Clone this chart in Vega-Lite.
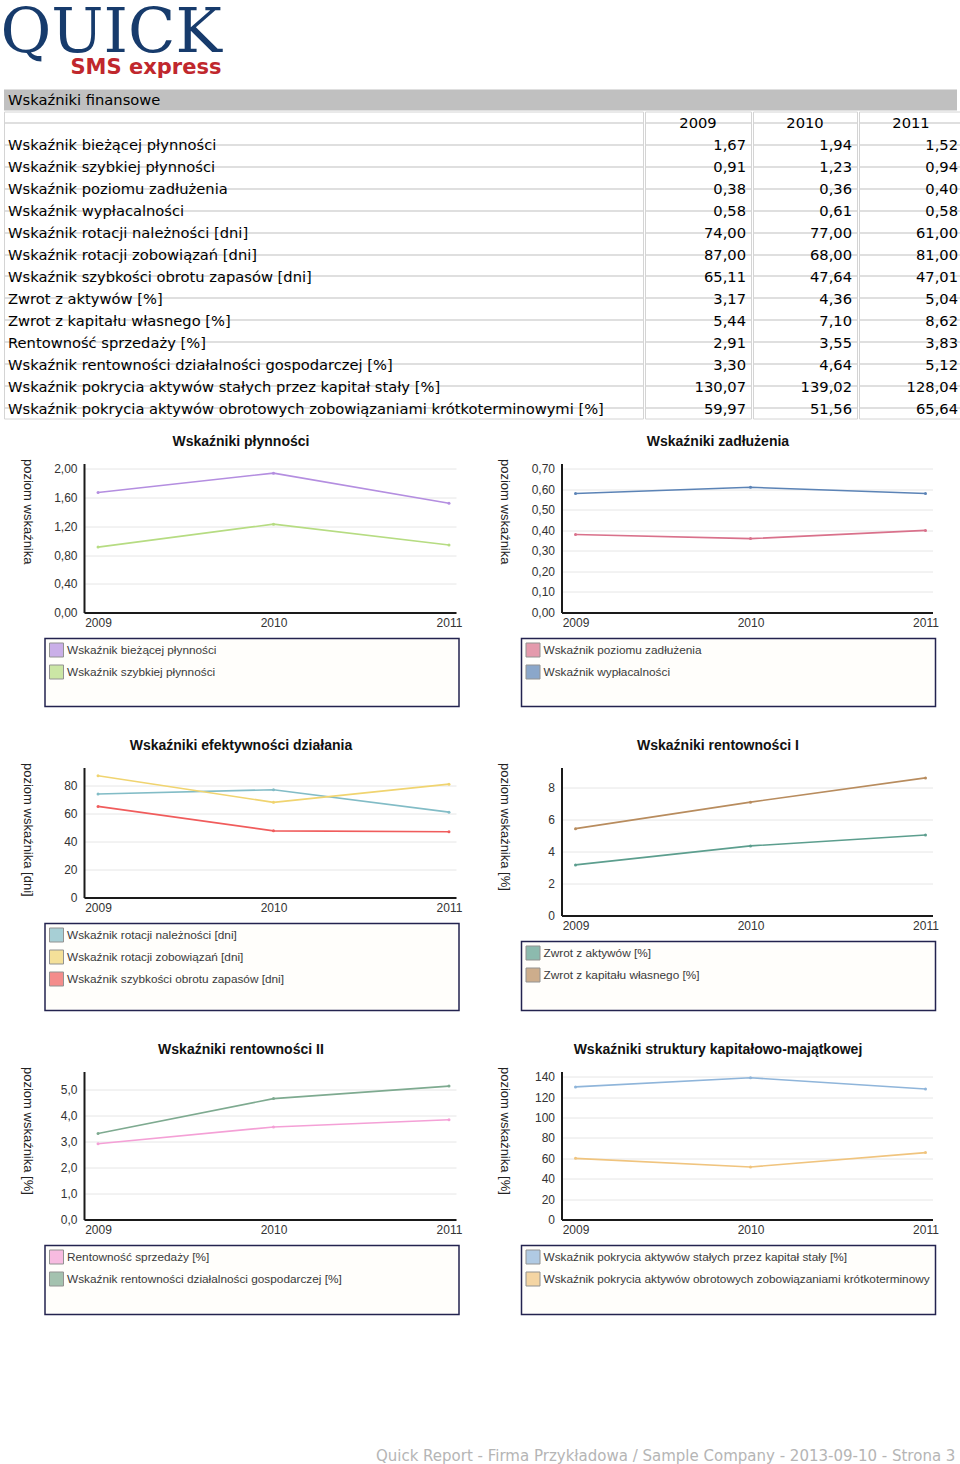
{
  "$schema": "https://vega.github.io/schema/vega-lite/v6.json",
  "padding": {"left": 0, "right": 3, "top": 1.5, "bottom": 0},
  "background": "white",
  "title": {"text": "QUICK", "anchor": "start", "dx": -3, "font": "DejaVu Serif", "fontSize": 62, "fontWeight": "normal", "color": "#173b6c", "offset": -8},
  "datasets": {
    "d": [
      {"g": "pl", "r": 1, "s": "Wskaźnik bieżącej płynności", "year": 2009, "v": 1.67},
      {"g": "pl", "r": 1, "s": "Wskaźnik bieżącej płynności", "year": 2010, "v": 1.94},
      {"g": "pl", "r": 1, "s": "Wskaźnik bieżącej płynności", "year": 2011, "v": 1.52},
      {"g": "pl", "r": 2, "s": "Wskaźnik szybkiej płynności", "year": 2009, "v": 0.91},
      {"g": "pl", "r": 2, "s": "Wskaźnik szybkiej płynności", "year": 2010, "v": 1.23},
      {"g": "pl", "r": 2, "s": "Wskaźnik szybkiej płynności", "year": 2011, "v": 0.94},
      {"g": "za", "r": 3, "s": "Wskaźnik poziomu zadłużenia", "year": 2009, "v": 0.38},
      {"g": "za", "r": 3, "s": "Wskaźnik poziomu zadłużenia", "year": 2010, "v": 0.36},
      {"g": "za", "r": 3, "s": "Wskaźnik poziomu zadłużenia", "year": 2011, "v": 0.40},
      {"g": "za", "r": 4, "s": "Wskaźnik wypłacalności", "year": 2009, "v": 0.58},
      {"g": "za", "r": 4, "s": "Wskaźnik wypłacalności", "year": 2010, "v": 0.61},
      {"g": "za", "r": 4, "s": "Wskaźnik wypłacalności", "year": 2011, "v": 0.58},
      {"g": "ef", "r": 5, "s": "Wskaźnik rotacji należności [dni]", "year": 2009, "v": 74.00},
      {"g": "ef", "r": 5, "s": "Wskaźnik rotacji należności [dni]", "year": 2010, "v": 77.00},
      {"g": "ef", "r": 5, "s": "Wskaźnik rotacji należności [dni]", "year": 2011, "v": 61.00},
      {"g": "ef", "r": 6, "s": "Wskaźnik rotacji zobowiązań [dni]", "year": 2009, "v": 87.00},
      {"g": "ef", "r": 6, "s": "Wskaźnik rotacji zobowiązań [dni]", "year": 2010, "v": 68.00},
      {"g": "ef", "r": 6, "s": "Wskaźnik rotacji zobowiązań [dni]", "year": 2011, "v": 81.00},
      {"g": "ef", "r": 7, "s": "Wskaźnik szybkości obrotu zapasów  [dni]", "year": 2009, "v": 65.11},
      {"g": "ef", "r": 7, "s": "Wskaźnik szybkości obrotu zapasów  [dni]", "year": 2010, "v": 47.64},
      {"g": "ef", "r": 7, "s": "Wskaźnik szybkości obrotu zapasów  [dni]", "year": 2011, "v": 47.01},
      {"g": "r1", "r": 8, "s": "Zwrot z aktywów [%]", "year": 2009, "v": 3.17},
      {"g": "r1", "r": 8, "s": "Zwrot z aktywów [%]", "year": 2010, "v": 4.36},
      {"g": "r1", "r": 8, "s": "Zwrot z aktywów [%]", "year": 2011, "v": 5.04},
      {"g": "r1", "r": 9, "s": "Zwrot z kapitału własnego [%]", "year": 2009, "v": 5.44},
      {"g": "r1", "r": 9, "s": "Zwrot z kapitału własnego [%]", "year": 2010, "v": 7.10},
      {"g": "r1", "r": 9, "s": "Zwrot z kapitału własnego [%]", "year": 2011, "v": 8.62},
      {"g": "r2", "r": 10, "s": "Rentowność sprzedaży [%]", "year": 2009, "v": 2.91},
      {"g": "r2", "r": 10, "s": "Rentowność sprzedaży [%]", "year": 2010, "v": 3.55},
      {"g": "r2", "r": 10, "s": "Rentowność sprzedaży [%]", "year": 2011, "v": 3.83},
      {"g": "r2", "r": 11, "s": "Wskaźnik rentowności działalności gospodarczej [%]", "year": 2009, "v": 3.30},
      {"g": "r2", "r": 11, "s": "Wskaźnik rentowności działalności gospodarczej [%]", "year": 2010, "v": 4.64},
      {"g": "r2", "r": 11, "s": "Wskaźnik rentowności działalności gospodarczej [%]", "year": 2011, "v": 5.12},
      {"g": "st", "r": 12, "s": "Wskaźnik pokrycia aktywów stałych przez kapitał stały [%]", "year": 2009, "v": 130.07},
      {"g": "st", "r": 12, "s": "Wskaźnik pokrycia aktywów stałych przez kapitał stały [%]", "year": 2010, "v": 139.02},
      {"g": "st", "r": 12, "s": "Wskaźnik pokrycia aktywów stałych przez kapitał stały [%]", "year": 2011, "v": 128.04},
      {"g": "st", "r": 13, "s": "Wskaźnik pokrycia aktywów obrotowych zobowiązaniami krótkoterminowymi [%]", "year": 2009, "v": 59.97},
      {"g": "st", "r": 13, "s": "Wskaźnik pokrycia aktywów obrotowych zobowiązaniami krótkoterminowymi [%]", "year": 2010, "v": 51.56},
      {"g": "st", "r": 13, "s": "Wskaźnik pokrycia aktywów obrotowych zobowiązaniami krótkoterminowymi [%]", "year": 2011, "v": 65.64}
    ]
  },
  "config": {
    "locale": {"number": {"decimal": ",", "thousands": " ", "grouping": [3], "currency": ["", " zł"]}},
    "view": {"stroke": null},
    "axis": {"labelFont": "Liberation Sans", "labelFontSize": 12, "labelColor": "#333333", "domainColor": "#1a1a1a", "domainWidth": 2, "ticks": false, "tickSize": 0, "labelOverlap": false, "titleFont": "Liberation Sans", "titleFontSize": 13, "titleFontWeight": "normal", "titleColor": "#222222"},
    "axisX": {"labelPadding": 5, "grid": false, "labelFlush": false},
    "axisY": {"labelPadding": 7, "grid": true, "gridColor": "#e6e6e6", "gridWidth": 1, "titleAngle": 90, "titleAlign": "left", "titleBaseline": "middle", "titleX": -57, "titleY": -5},
    "legend": {"orient": "top-left", "offset": 4, "padding": 0, "title": null, "symbolType": "square", "symbolSize": 196, "symbolStrokeColor": "#666666", "symbolStrokeWidth": 1, "labelFont": "Liberation Sans", "labelFontSize": 11.8, "labelColor": "#3a3a3a", "labelOffset": 3, "rowPadding": 3, "labelLimit": 420, "direction": "vertical"}
  },
  "spacing": 15,
  "resolve": {"scale": {"color": "independent", "x": "independent", "y": "independent"}, "legend": {"color": "independent"}},
  "vconcat": [
    {
      "title": {"text": "SMS express", "anchor": "start", "dx": 67, "font": "DejaVu Sans", "fontSize": 21, "fontWeight": "bold", "color": "#c0272d", "offset": 12},
      "spacing": 0,
      "resolve": {"scale": {"x": "independent", "y": "independent"}},
      "vconcat": [
        {
          "width": 953, "height": 21,
          "view": {"fill": "#c0c0c0", "stroke": null},
          "data": {"values": [{"t": "Wskaźniki finansowe"}]},
          "mark": {"type": "text", "align": "left", "baseline": "middle", "dx": 4, "dy": 1, "font": "DejaVu Sans", "fontSize": 14.7, "color": "#000000"},
          "encoding": {
            "x": {"datum": 0, "type": "quantitative", "scale": {"domain": [0, 1]}, "axis": null},
            "text": {"field": "t"}
          }
        },
        {
          "spacing": 0,
          "resolve": {"scale": {"x": "independent", "y": "independent"}},
          "hconcat": [
            {
              "width": 639, "height": 307,
              "view": {"stroke": "#d4d4d4", "strokeWidth": 1},
              "data": {"name": "d"},
              "transform": [{"filter": "datum.year == 2009"}],
              "mark": {"type": "text", "align": "left", "baseline": "middle", "dx": 4, "dy": 2, "font": "DejaVu Sans", "fontSize": 14.7, "color": "#000000"},
              "encoding": {
                "y": {"field": "r", "type": "ordinal", "scale": {"domain": [0,1,2,3,4,5,6,7,8,9,10,11,12,13], "paddingInner": 0, "paddingOuter": 0}, "axis": {"labels": false, "domain": false, "ticks": false, "title": null, "grid": true, "bandPosition": 0, "gridColor": "#d4d4d4", "gridWidth": 1.5}},
                "x": {"datum": 0, "type": "quantitative", "scale": {"domain": [0, 1]}, "axis": null},
                "text": {"field": "s"}
              }
            },
            {
              "width": 106, "height": 307,
              "view": {"stroke": "#d4d4d4", "strokeWidth": 1},
              "layer": [
                {
                  "data": {"name": "d"},
                  "transform": [{"filter": "datum.year == 2009"}],
                  "mark": {"type": "text", "align": "right", "baseline": "middle", "dx": -5, "dy": 2, "font": "DejaVu Sans", "fontSize": 14.7, "color": "#000000"},
                  "encoding": {
                    "y": {"field": "r", "type": "ordinal", "scale": {"domain": [0,1,2,3,4,5,6,7,8,9,10,11,12,13], "paddingInner": 0, "paddingOuter": 0}, "axis": {"labels": false, "domain": false, "ticks": false, "title": null, "grid": true, "bandPosition": 0, "gridColor": "#d4d4d4", "gridWidth": 1.5}},
                    "x": {"datum": 1, "type": "quantitative", "scale": {"domain": [0, 1]}, "axis": null},
                    "text": {"field": "v", "type": "quantitative", "format": ".2f"}
                  }
                },
                {
                  "data": {"values": [{"r": 0, "t": "2009"}]},
                  "mark": {"type": "text", "align": "center", "baseline": "middle", "dy": 2, "font": "DejaVu Sans", "fontSize": 14.7, "color": "#000000"},
                  "encoding": {
                    "y": {"field": "r", "type": "ordinal"},
                    "x": {"datum": 0.5, "type": "quantitative"},
                    "text": {"field": "t"}
                  }
                }
              ]
            },
            {
              "width": 104, "height": 307,
              "view": {"stroke": "#d4d4d4", "strokeWidth": 1},
              "layer": [
                {
                  "data": {"name": "d"},
                  "transform": [{"filter": "datum.year == 2010"}],
                  "mark": {"type": "text", "align": "right", "baseline": "middle", "dx": -5, "dy": 2, "font": "DejaVu Sans", "fontSize": 14.7, "color": "#000000"},
                  "encoding": {
                    "y": {"field": "r", "type": "ordinal", "scale": {"domain": [0,1,2,3,4,5,6,7,8,9,10,11,12,13], "paddingInner": 0, "paddingOuter": 0}, "axis": {"labels": false, "domain": false, "ticks": false, "title": null, "grid": true, "bandPosition": 0, "gridColor": "#d4d4d4", "gridWidth": 1.5}},
                    "x": {"datum": 1, "type": "quantitative", "scale": {"domain": [0, 1]}, "axis": null},
                    "text": {"field": "v", "type": "quantitative", "format": ".2f"}
                  }
                },
                {
                  "data": {"values": [{"r": 0, "t": "2010"}]},
                  "mark": {"type": "text", "align": "center", "baseline": "middle", "dy": 2, "font": "DejaVu Sans", "fontSize": 14.7, "color": "#000000"},
                  "encoding": {
                    "y": {"field": "r", "type": "ordinal"},
                    "x": {"datum": 0.5, "type": "quantitative"},
                    "text": {"field": "t"}
                  }
                }
              ]
            },
            {
              "width": 104, "height": 307,
              "view": {"stroke": "#d4d4d4", "strokeWidth": 1},
              "layer": [
                {
                  "data": {"name": "d"},
                  "transform": [{"filter": "datum.year == 2011"}],
                  "mark": {"type": "text", "align": "right", "baseline": "middle", "dx": -5, "dy": 2, "font": "DejaVu Sans", "fontSize": 14.7, "color": "#000000"},
                  "encoding": {
                    "y": {"field": "r", "type": "ordinal", "scale": {"domain": [0,1,2,3,4,5,6,7,8,9,10,11,12,13], "paddingInner": 0, "paddingOuter": 0}, "axis": {"labels": false, "domain": false, "ticks": false, "title": null, "grid": true, "bandPosition": 0, "gridColor": "#d4d4d4", "gridWidth": 1.5}},
                    "x": {"datum": 1, "type": "quantitative", "scale": {"domain": [0, 1]}, "axis": null},
                    "text": {"field": "v", "type": "quantitative", "format": ".2f"}
                  }
                },
                {
                  "data": {"values": [{"r": 0, "t": "2011"}]},
                  "mark": {"type": "text", "align": "center", "baseline": "middle", "dy": 2, "font": "DejaVu Sans", "fontSize": 14.7, "color": "#000000"},
                  "encoding": {
                    "y": {"field": "r", "type": "ordinal"},
                    "x": {"datum": 0.5, "type": "quantitative"},
                    "text": {"field": "t"}
                  }
                }
              ]
            }
          ]
        }
      ]
    },
    {
      "title": {"text": "Quick Report - Firma Przykładowa / Sample Company - 2013-09-10 - Strona 3", "orient": "bottom", "anchor": "end", "font": "DejaVu Sans", "fontSize": 15, "fontWeight": "normal", "color": "#b5b5b5", "offset": 134, "dx": 17},
      "spacing": 0,
      "resolve": {"scale": {"color": "independent", "x": "independent", "y": "independent"}, "legend": {"color": "independent"}},
      "hconcat": [
        {
          "width": 16, "height": 1,
          "data": {"values": [{"k": 0}]},
          "mark": {"type": "point", "opacity": 0},
          "encoding": {}
        },
        {
          "spacing": 31,
          "resolve": {"scale": {"color": "independent", "x": "independent", "y": "independent"}, "legend": {"color": "independent"}},
          "vconcat": [
            {
              "spacing": 35.5,
              "resolve": {"scale": {"color": "independent", "x": "independent", "y": "independent"}, "legend": {"color": "independent"}},
              "hconcat": [
                {
                  "title": {"text": "Wskaźniki płynności", "font": "Liberation Sans", "fontSize": 14, "fontWeight": "bold", "color": "#111111", "offset": 10, "anchor": "middle"},
                  "spacing": 9,
                  "resolve": {"scale": {"color": "independent", "x": "independent", "y": "independent"}, "legend": {"color": "independent"}},
                  "vconcat": [
                    {
                      "width": 414, "height": 149,
                      "data": {"name": "d"},
                      "transform": [{"filter": "datum.g == 'pl'"}],
                      "encoding": {
                        "x": {"field": "year", "type": "quantitative", "scale": {"domain": [2008.92, 2011.04], "nice": false, "zero": false, "rangeMin": 39, "rangeMax": 411}, "axis": {"values": [2009, 2010, 2011], "tickMinStep": 0.1, "labelExpr": "'' + datum.value", "title": null, "labelOverlap": false}},
                        "y": {"field": "v", "type": "quantitative", "scale": {"domain": [0, 2.074], "nice": false}, "axis": {"values": [0, 0.4, 0.8, 1.2, 1.6, 2.0], "format": ".2f", "title": "poziom wskaźnika", "offset": -39}},
                        "color": {"field": "s", "type": "nominal", "scale": {"domain": ["Wskaźnik bieżącej płynności", "Wskaźnik szybkiej płynności"], "range": ["#b48ee0", "#b6dc82"]}, "legend": null}
                      },
                      "layer": [
                        {"mark": {"type": "line", "strokeWidth": 1.6}},
                        {"mark": {"type": "point", "filled": true, "size": 9, "opacity": 1}}
                      ]
                    },
                    {
                      "width": 414, "height": 68,
                      "view": {"fill": "#fffefb", "stroke": "#23234f", "strokeWidth": 1.5},
                      "data": {"name": "d"},
                      "transform": [{"filter": "datum.g == 'pl' && datum.year == 2009"}],
                      "mark": {"type": "square", "size": 0},
                      "encoding": {
                        "color": {"field": "s", "type": "nominal", "scale": {"domain": ["Wskaźnik bieżącej płynności", "Wskaźnik szybkiej płynności"], "range": ["#b48ee0", "#b6dc82"]}, "legend": {}}
                      }
                    }
                  ]
                },
                {
                  "title": {"text": "Wskaźniki zadłużenia", "font": "Liberation Sans", "fontSize": 14, "fontWeight": "bold", "color": "#111111", "offset": 10, "anchor": "middle"},
                  "spacing": 9,
                  "resolve": {"scale": {"color": "independent", "x": "independent", "y": "independent"}, "legend": {"color": "independent"}},
                  "vconcat": [
                    {
                      "width": 414, "height": 149,
                      "data": {"name": "d"},
                      "transform": [{"filter": "datum.g == 'za'"}],
                      "encoding": {
                        "x": {"field": "year", "type": "quantitative", "scale": {"domain": [2008.92, 2011.04], "nice": false, "zero": false, "rangeMin": 40, "rangeMax": 411}, "axis": {"values": [2009, 2010, 2011], "tickMinStep": 0.1, "labelExpr": "'' + datum.value", "title": null, "labelOverlap": false}},
                        "y": {"field": "v", "type": "quantitative", "scale": {"domain": [0, 0.726], "nice": false}, "axis": {"values": [0, 0.1, 0.2, 0.3, 0.4, 0.5, 0.6, 0.7], "format": ".2f", "title": "poziom wskaźnika", "offset": -40}},
                        "color": {"field": "s", "type": "nominal", "scale": {"domain": ["Wskaźnik poziomu zadłużenia", "Wskaźnik wypłacalności"], "range": ["#d9718b", "#5b83b6"]}, "legend": null}
                      },
                      "layer": [
                        {"mark": {"type": "line", "strokeWidth": 1.6}},
                        {"mark": {"type": "point", "filled": true, "size": 9, "opacity": 1}}
                      ]
                    },
                    {
                      "width": 414, "height": 68,
                      "view": {"fill": "#fffefb", "stroke": "#23234f", "strokeWidth": 1.5},
                      "data": {"name": "d"},
                      "transform": [{"filter": "datum.g == 'za' && datum.year == 2009"}],
                      "mark": {"type": "square", "size": 0},
                      "encoding": {
                        "color": {"field": "s", "type": "nominal", "scale": {"domain": ["Wskaźnik poziomu zadłużenia", "Wskaźnik wypłacalności"], "range": ["#d9718b", "#5b83b6"]}, "legend": {}}
                      }
                    }
                  ]
                }
              ]
            },
            {
              "spacing": 35.5,
              "resolve": {"scale": {"color": "independent", "x": "independent", "y": "independent"}, "legend": {"color": "independent"}},
              "hconcat": [
                {
                  "title": {"text": "Wskaźniki efektywności działania", "font": "Liberation Sans", "fontSize": 14, "fontWeight": "bold", "color": "#111111", "offset": 10, "anchor": "middle"},
                  "spacing": 9,
                  "resolve": {"scale": {"color": "independent", "x": "independent", "y": "independent"}, "legend": {"color": "independent"}},
                  "vconcat": [
                    {
                      "width": 414, "height": 130,
                      "data": {"name": "d"},
                      "transform": [{"filter": "datum.g == 'ef'"}],
                      "encoding": {
                        "x": {"field": "year", "type": "quantitative", "scale": {"domain": [2008.92, 2011.04], "nice": false, "zero": false, "rangeMin": 39, "rangeMax": 411}, "axis": {"values": [2009, 2010, 2011], "tickMinStep": 0.1, "labelExpr": "'' + datum.value", "title": null, "labelOverlap": false}},
                        "y": {"field": "v", "type": "quantitative", "scale": {"domain": [0, 92.9], "nice": false}, "axis": {"values": [0, 20, 40, 60, 80], "format": "d", "title": "poziom wskaźnika [dni]", "offset": -39}},
                        "color": {"field": "s", "type": "nominal", "scale": {"domain": ["Wskaźnik rotacji należności [dni]", "Wskaźnik rotacji zobowiązań [dni]", "Wskaźnik szybkości obrotu zapasów  [dni]"], "range": ["#82bcc6", "#f0d470", "#f05c5c"]}, "legend": null}
                      },
                      "layer": [
                        {"mark": {"type": "line", "strokeWidth": 1.6}},
                        {"mark": {"type": "point", "filled": true, "size": 9, "opacity": 1}}
                      ]
                    },
                    {
                      "width": 414, "height": 87,
                      "view": {"fill": "#fffefb", "stroke": "#23234f", "strokeWidth": 1.5},
                      "data": {"name": "d"},
                      "transform": [{"filter": "datum.g == 'ef' && datum.year == 2009"}],
                      "mark": {"type": "square", "size": 0},
                      "encoding": {
                        "color": {"field": "s", "type": "nominal", "scale": {"domain": ["Wskaźnik rotacji należności [dni]", "Wskaźnik rotacji zobowiązań [dni]", "Wskaźnik szybkości obrotu zapasów  [dni]"], "range": ["#82bcc6", "#f0d470", "#f05c5c"]}, "legend": {}}
                      }
                    }
                  ]
                },
                {
                  "title": {"text": "Wskaźniki rentowności I", "font": "Liberation Sans", "fontSize": 14, "fontWeight": "bold", "color": "#111111", "offset": 10, "anchor": "middle"},
                  "spacing": 9,
                  "resolve": {"scale": {"color": "independent", "x": "independent", "y": "independent"}, "legend": {"color": "independent"}},
                  "vconcat": [
                    {
                      "width": 414, "height": 148,
                      "data": {"name": "d"},
                      "transform": [{"filter": "datum.g == 'r1'"}],
                      "encoding": {
                        "x": {"field": "year", "type": "quantitative", "scale": {"domain": [2008.92, 2011.04], "nice": false, "zero": false, "rangeMin": 40, "rangeMax": 411}, "axis": {"values": [2009, 2010, 2011], "tickMinStep": 0.1, "labelExpr": "'' + datum.value", "title": null, "labelOverlap": false}},
                        "y": {"field": "v", "type": "quantitative", "scale": {"domain": [0, 9.27], "nice": false}, "axis": {"values": [0, 2, 4, 6, 8], "format": "d", "title": "poziom wskaźnika [%]", "offset": -40}},
                        "color": {"field": "s", "type": "nominal", "scale": {"domain": ["Zwrot z aktywów [%]", "Zwrot z kapitału własnego [%]"], "range": ["#5c9e8e", "#b88c5e"]}, "legend": null}
                      },
                      "layer": [
                        {"mark": {"type": "line", "strokeWidth": 1.6}},
                        {"mark": {"type": "point", "filled": true, "size": 9, "opacity": 1}}
                      ]
                    },
                    {
                      "width": 414, "height": 69,
                      "view": {"fill": "#fffefb", "stroke": "#23234f", "strokeWidth": 1.5},
                      "data": {"name": "d"},
                      "transform": [{"filter": "datum.g == 'r1' && datum.year == 2009"}],
                      "mark": {"type": "square", "size": 0},
                      "encoding": {
                        "color": {"field": "s", "type": "nominal", "scale": {"domain": ["Zwrot z aktywów [%]", "Zwrot z kapitału własnego [%]"], "range": ["#5c9e8e", "#b88c5e"]}, "legend": {}}
                      }
                    }
                  ]
                }
              ]
            },
            {
              "spacing": 35.5,
              "resolve": {"scale": {"color": "independent", "x": "independent", "y": "independent"}, "legend": {"color": "independent"}},
              "hconcat": [
                {
                  "title": {"text": "Wskaźniki rentowności II", "font": "Liberation Sans", "fontSize": 14, "fontWeight": "bold", "color": "#111111", "offset": 10, "anchor": "middle"},
                  "spacing": 9,
                  "resolve": {"scale": {"color": "independent", "x": "independent", "y": "independent"}, "legend": {"color": "independent"}},
                  "vconcat": [
                    {
                      "width": 414, "height": 148,
                      "data": {"name": "d"},
                      "transform": [{"filter": "datum.g == 'r2'"}],
                      "encoding": {
                        "x": {"field": "year", "type": "quantitative", "scale": {"domain": [2008.92, 2011.04], "nice": false, "zero": false, "rangeMin": 39, "rangeMax": 411}, "axis": {"values": [2009, 2010, 2011], "tickMinStep": 0.1, "labelExpr": "'' + datum.value", "title": null, "labelOverlap": false}},
                        "y": {"field": "v", "type": "quantitative", "scale": {"domain": [0, 5.68], "nice": false}, "axis": {"values": [0, 1, 2, 3, 4, 5], "format": ".1f", "title": "poziom wskaźnika [%]", "offset": -39}},
                        "color": {"field": "s", "type": "nominal", "scale": {"domain": ["Rentowność sprzedaży [%]", "Wskaźnik rentowności działalności gospodarczej [%]"], "range": ["#f4a0d6", "#7eaa90"]}, "legend": null}
                      },
                      "layer": [
                        {"mark": {"type": "line", "strokeWidth": 1.6}},
                        {"mark": {"type": "point", "filled": true, "size": 9, "opacity": 1}}
                      ]
                    },
                    {
                      "width": 414, "height": 69,
                      "view": {"fill": "#fffefb", "stroke": "#23234f", "strokeWidth": 1.5},
                      "data": {"name": "d"},
                      "transform": [{"filter": "datum.g == 'r2' && datum.year == 2009"}],
                      "mark": {"type": "square", "size": 0},
                      "encoding": {
                        "color": {"field": "s", "type": "nominal", "scale": {"domain": ["Rentowność sprzedaży [%]", "Wskaźnik rentowności działalności gospodarczej [%]"], "range": ["#f4a0d6", "#7eaa90"]}, "legend": {}}
                      }
                    }
                  ]
                },
                {
                  "title": {"text": "Wskaźniki struktury kapitałowo-majątkowej", "font": "Liberation Sans", "fontSize": 14, "fontWeight": "bold", "color": "#111111", "offset": 10, "anchor": "middle"},
                  "spacing": 9,
                  "resolve": {"scale": {"color": "independent", "x": "independent", "y": "independent"}, "legend": {"color": "independent"}},
                  "vconcat": [
                    {
                      "width": 414, "height": 148,
                      "data": {"name": "d"},
                      "transform": [{"filter": "datum.g == 'st'"}],
                      "encoding": {
                        "x": {"field": "year", "type": "quantitative", "scale": {"domain": [2008.92, 2011.04], "nice": false, "zero": false, "rangeMin": 40, "rangeMax": 411}, "axis": {"values": [2009, 2010, 2011], "tickMinStep": 0.1, "labelExpr": "'' + datum.value", "title": null, "labelOverlap": false}},
                        "y": {"field": "v", "type": "quantitative", "scale": {"domain": [0, 145.2], "nice": false}, "axis": {"values": [0, 20, 40, 60, 80, 100, 120, 140], "format": "d", "title": "poziom wskaźnika [%]", "offset": -40}},
                        "color": {"field": "s", "type": "nominal", "scale": {"domain": ["Wskaźnik pokrycia aktywów stałych przez kapitał stały [%]", "Wskaźnik pokrycia aktywów obrotowych zobowiązaniami krótkoterminowymi [%]"], "range": ["#8fb5da", "#f0c47e"]}, "legend": null}
                      },
                      "layer": [
                        {"mark": {"type": "line", "strokeWidth": 1.6}},
                        {"mark": {"type": "point", "filled": true, "size": 9, "opacity": 1}}
                      ]
                    },
                    {
                      "width": 414, "height": 69,
                      "view": {"fill": "#fffefb", "stroke": "#23234f", "strokeWidth": 1.5},
                      "data": {"name": "d"},
                      "transform": [{"filter": "datum.g == 'st' && datum.year == 2009"}],
                      "mark": {"type": "square", "size": 0},
                      "encoding": {
                        "color": {"field": "s", "type": "nominal", "scale": {"domain": ["Wskaźnik pokrycia aktywów stałych przez kapitał stały [%]", "Wskaźnik pokrycia aktywów obrotowych zobowiązaniami krótkoterminowymi [%]"], "range": ["#8fb5da", "#f0c47e"]}, "legend": {"labelExpr": "length(datum.label) > 70 ? slice(datum.label, 0, 67) : datum.label"}}
                      }
                    }
                  ]
                }
              ]
            }
          ]
        }
      ]
    }
  ]
}
